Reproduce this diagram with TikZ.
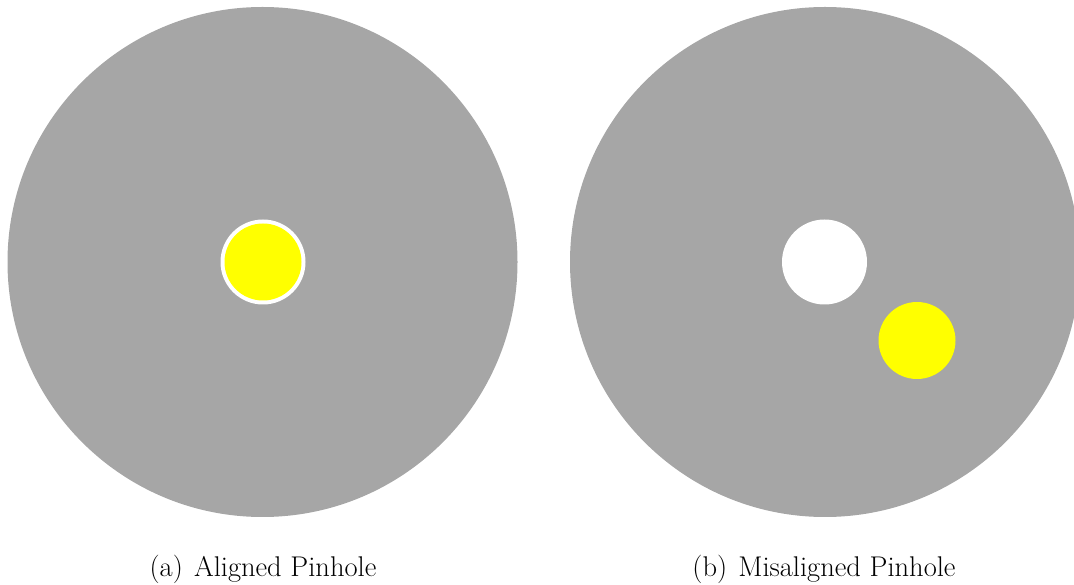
\documentclass[tikz,border=0pt]{standalone}
\usepackage{xcolor}
\definecolor{plate}{HTML}{A6A6A6}
\definecolor{spot}{HTML}{FFFF00}
\begin{document}
\begin{tikzpicture}[x=1pt,y=1pt,
  platedisc/.style={circle,fill=plate,draw=none,minimum size=510pt,inner sep=0pt},
  hole/.style={circle,fill=white,draw=none,minimum size=85pt,inner sep=0pt},
  beam/.style={circle,fill=spot,draw=none,minimum size=77pt,inner sep=0pt},
  caption/.style={anchor=base,inner sep=0pt,font=\fontsize{28.5}{32}\selectfont}]
\clip (0,0) rectangle (1074,584);
\useasboundingbox (0,0) rectangle (1074,584);
% (a) beam centred on the pinhole
\node[platedisc] (plateA) at (262.5,322) {};
\node[hole] (holeA) at (263,322) {};
\node[beam] (beamA) at (263,322) {};
\node[caption] (capA) at (263,8) {(a)\hspace{0.39em}Aligned Pinhole};
% (b) beam displaced from the pinhole
\node[platedisc] (plateB) at (825,322) {};
\node[hole] (holeB) at (824.5,322) {};
\node[beam] (beamB) at (917,243.5) {};
\node[caption] (capB) at (824,8) {(b)\hspace{0.39em}Misaligned Pinhole};
\end{tikzpicture}
\end{document}
